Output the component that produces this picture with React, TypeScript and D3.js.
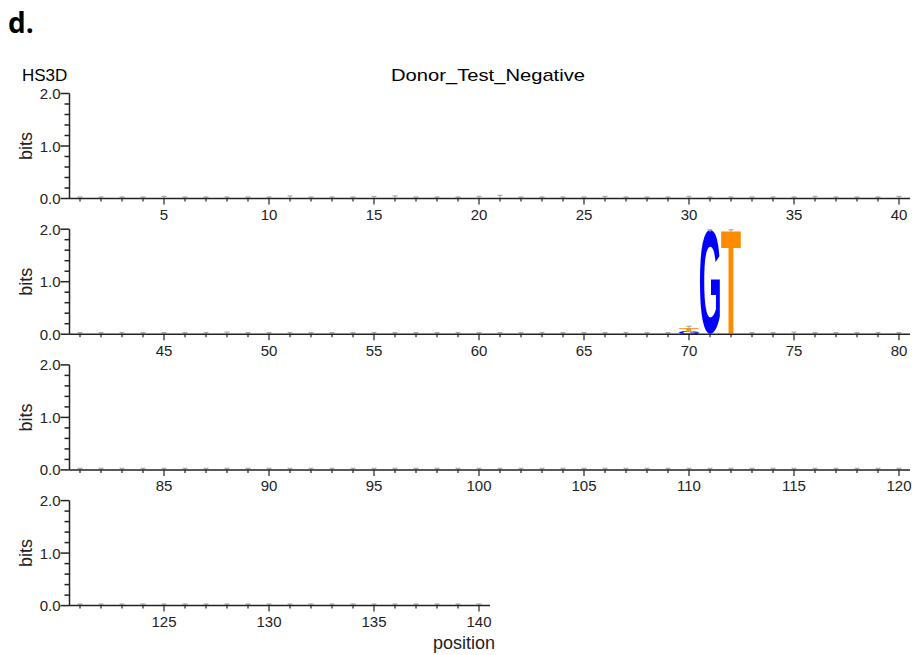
import React, { useMemo } from "react";
import * as d3 from "d3";

// ---- data ----
const panelStarts = [1, 41, 81, 121];
const panelCounts = [40, 40, 40, 20];
const yTicksMajor = [0, 1, 2];
const yTicksMinor = [0.2, 0.4, 0.6, 0.8, 1.2, 1.4, 1.6, 1.8];
const stackPositions = [70, 71, 72];
const stackLetters = [["G", "T"], ["G"], ["T"]];
const stackHeights = [[0.04, 0.07], [1.97], [1.97]];
// small-sample error bars (bits) per position 1..140
const errorBars = [
  0.03, 0.03, 0.03, 0.03, 0.04, 0.03, 0.03, 0.03, 0.03, 0.03,
  0.05, 0.03, 0.03, 0.03, 0.04, 0.05, 0.03, 0.03, 0.03, 0.04,
  0.06, 0.03, 0.03, 0.03, 0.03, 0.04, 0.03, 0.03, 0.03, 0.04,
  0.03, 0.03, 0.03, 0.03, 0.03, 0.04, 0.03, 0.03, 0.03, 0.04,
  0.03, 0.03, 0.03, 0.03, 0.03, 0.03, 0.03, 0.04, 0.03, 0.03,
  0.03, 0.03, 0.03, 0.03, 0.03, 0.03, 0.03, 0.03, 0.03, 0.03,
  0.03, 0.03, 0.03, 0.03, 0.03, 0.03, 0.03, 0.03, 0.03, 0.04,
  0.02, 0.02, 0.03, 0.03, 0.04, 0.03, 0.03, 0.03, 0.03, 0.03,
  0.03, 0.03, 0.03, 0.03, 0.03, 0.03, 0.03, 0.03, 0.03, 0.03,
  0.03, 0.03, 0.03, 0.03, 0.03, 0.03, 0.03, 0.03, 0.03, 0.03,
  0.03, 0.03, 0.03, 0.03, 0.03, 0.03, 0.03, 0.03, 0.03, 0.03,
  0.03, 0.03, 0.03, 0.03, 0.03, 0.03, 0.03, 0.03, 0.03, 0.03,
  0.03, 0.03, 0.03, 0.03, 0.03, 0.03, 0.03, 0.03, 0.03, 0.03,
  0.03, 0.03, 0.03, 0.03, 0.03, 0.03, 0.03, 0.03, 0.03, 0.03,
];
const letterColors: Record<string, string> = { G: "#0000ff", T: "#ff8c00", A: "#00aa00", C: "#dd0000" };
const title = "Donor_Test_Negative";
const dataset = "HS3D";

const W = 917, H = 655;
const axisX = 69.5;
const colW = 21;
const panelTop0 = 93.5;
const panelH = 105;
const panelGap = 135.7;
const FONT = "'Liberation Sans', Arial, Helvetica, sans-serif";

function useGlyphMetrics() {
  return useMemo(() => {
    const m: Record<string, { l: number; r: number; a: number; d: number }> = {};
    const c = document.createElement("canvas").getContext("2d");
    ["A", "C", "G", "T"].forEach((ch) => {
      if (c) {
        c.font = `bold 100px ${FONT}`;
        const t = c.measureText(ch);
        m[ch] = {
          l: t.actualBoundingBoxLeft,
          r: t.actualBoundingBoxRight,
          a: t.actualBoundingBoxAscent,
          d: t.actualBoundingBoxDescent,
        };
      } else {
        m[ch] = { l: 0, r: 70, a: 72, d: 0 };
      }
    });
    return m;
  }, []);
}

export default function App() {
  const metrics = useGlyphMetrics();
  const yScale = d3.scaleLinear().domain([0, 2]).range([panelH, 0]);

  return (
    <svg width={W} height={H} style={{ position: "absolute", left: 0, top: 0, background: "#fff" }}
      fontFamily={FONT}>
      <text x={8} y={33} fontSize={28} fontWeight="bold" fontFamily="'Open Sans', 'Noto Sans', sans-serif">d.</text>
      <text x={22} y={81} fontSize={17}>{dataset}</text>
      <text x={391} y={81} fontSize={17} textLength={194} lengthAdjust="spacingAndGlyphs">{title}</text>
      {panelStarts.map((start, pi) => {
        const n = panelCounts[pi];
        const top = panelTop0 + pi * panelGap;
        const positions = d3.range(start, start + n);
        const x = d3.scaleLinear().domain([start - 0.5, start + n - 0.5]).range([axisX, axisX + n * colW]);
        const xEnd = axisX + n * colW + 0.5;
        return (
          <g key={pi} transform={`translate(0,${top})`}>
            {/* y axis */}
            <line x1={axisX} x2={axisX} y1={yScale(2)} y2={yScale(0)} stroke="#222" strokeWidth={1.5} />
            {yTicksMajor.map((t) => (
              <g key={t}>
                <line x1={axisX - 9} x2={axisX} y1={yScale(t)} y2={yScale(t)} stroke="#222" strokeWidth={1.5} />
                <text x={axisX - 9} y={yScale(t) + 5.5} fontSize={15} textAnchor="end" fill="#222">{t.toFixed(1)}</text>
              </g>
            ))}
            {yTicksMinor.map((t) => (
              <line key={t} x1={axisX - 5} x2={axisX} y1={yScale(t)} y2={yScale(t)} stroke="#222" strokeWidth={1.5} />
            ))}
            <text transform={`translate(32,${panelH / 2}) rotate(-90)`} fontSize={18} textAnchor="middle" fill="#222">bits</text>
            {/* stacks */}
            {stackPositions.map((p, si) => {
              if (p < start || p >= start + n) return null;
              let cum = 0;
              return stackLetters[si].map((ch, li) => {
                const h = stackHeights[si][li];
                const yb = yScale(cum);
                const yt = yScale(cum + h);
                cum += h;
                const g = metrics[ch];
                const x0 = x(p) - 10, x1 = x(p) + 10;
                const sx = (x1 - x0) / (g.l + g.r);
                const sy = (yb - yt) / (g.a + g.d);
                return (
                  <text key={`${p}-${li}`} fontSize={100} fontWeight="bold" fill={letterColors[ch]}
                    transform={`translate(${x0 + g.l * sx},${yb - g.d * sy}) scale(${sx},${sy})`}>{ch}</text>
                );
              });
            })}
            {/* error bars */}
            {positions.map((p) => {
              const si = stackPositions.indexOf(p);
              const total = si >= 0 ? d3.sum(stackHeights[si]) : 0;
              const e = errorBars[p - 1];
              const yTop = yScale(Math.min(2, total + e));
              const yBot = Math.min(yScale(0), yScale(total - e));
              return (
                <g key={p} stroke="#aaa" strokeWidth={1.2}>
                  <line x1={x(p)} x2={x(p)} y1={yTop} y2={yBot} />
                  <line x1={x(p) - 2.5} x2={x(p) + 2.5} y1={yTop} y2={yTop} />
                </g>
              );
            })}
            {/* x axis */}
            <line x1={axisX} x2={xEnd} y1={yScale(0)} y2={yScale(0)} stroke="#222" strokeWidth={1.5} />
            {positions.map((p) => (
              <line key={p} x1={x(p)} x2={x(p)} y1={yScale(0)} y2={yScale(0) + (p % 5 === 0 ? 6 : 3)} stroke="#222" strokeWidth={1.2} />
            ))}
            {positions.filter((p) => p % 5 === 0).map((p) => (
              <text key={p} x={x(p)} y={yScale(0) + 21.5} fontSize={15} textAnchor="middle" fill="#222">{p}</text>
            ))}
            {pi === panelStarts.length - 1 && (
              <text x={464} y={yScale(0) + 43} fontSize={18} textAnchor="middle" fill="#222">position</text>
            )}
          </g>
        );
      })}
    </svg>
  );
}
